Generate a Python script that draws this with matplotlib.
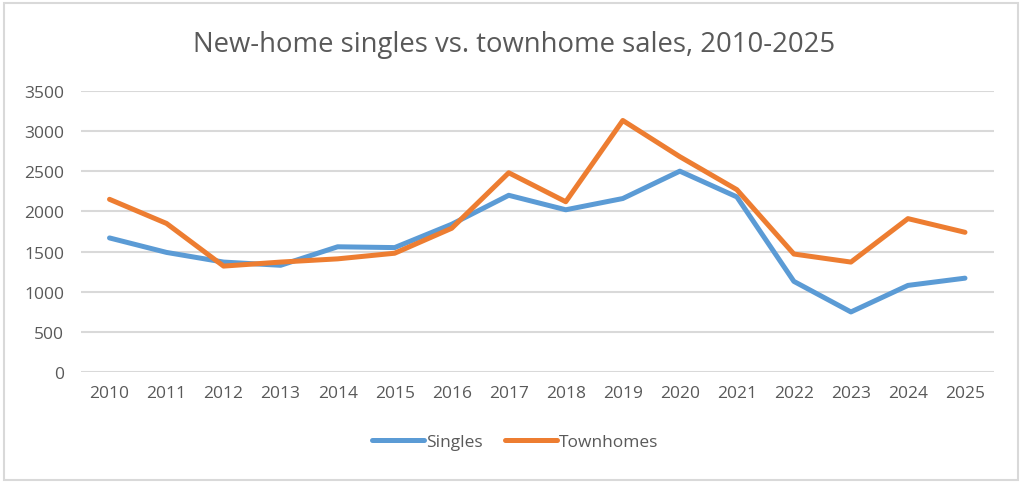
import matplotlib
matplotlib.use("Agg")
import matplotlib.pyplot as plt
from matplotlib.patches import Rectangle

years = ["2010", "2011", "2012", "2013", "2014", "2015", "2016", "2017",
         "2018", "2019", "2020", "2021", "2022", "2023", "2024", "2025"]
singles = [1670, 1490, 1370, 1330, 1560, 1550, 1840, 2200,
           2020, 2160, 2500, 2180, 1130, 750, 1080, 1170]
townhomes = [2150, 1850, 1320, 1370, 1410, 1480, 1790, 2480,
             2120, 3130, 2680, 2270, 1470, 1370, 1910, 1740]
yticks = [0, 500, 1000, 1500, 2000, 2500, 3000, 3500]

plt.rcParams['font.family'] = ['Open Sans', 'DejaVu Sans']
txt = '#595959'

fig = plt.figure(figsize=(10.24, 4.85), dpi=100)
fig.patches.append(Rectangle((0.004, 0.008), 0.99, 0.984, transform=fig.transFigure,
                             fill=False, edgecolor='#D9D9D9', linewidth=1.5))
ax = fig.add_axes([81 / 1024, 1 - 373.3 / 485, (993.5 - 81) / 1024, (373.3 - 91.7) / 485])

x = list(range(len(years)))
ax.plot(x, singles, color='#5B9BD5', linewidth=3.6, solid_joinstyle='round',
        solid_capstyle='round', label='Singles', zorder=3)
ax.plot(x, townhomes, color='#ED7D31', linewidth=3.6, solid_joinstyle='round',
        solid_capstyle='round', label='Townhomes', zorder=3)

ax.set_xlim(-0.5, len(years) - 0.5)
ax.set_ylim(0, 3500)
ax.set_yticks(yticks)
ax.set_yticklabels([str(v) for v in yticks])
ax.set_xticks(x)
ax.set_xticklabels(years)
ax.grid(axis='y', color='#D9D9D9', linewidth=1.5)
ax.set_axisbelow(True)
for s in ax.spines.values():
    s.set_visible(False)
ax.tick_params(length=0, labelsize=12.5, colors=txt, pad=9)
ax.tick_params(axis='y', pad=12)

fig.text(0.502, 1 - 45 / 485, 'New-home singles vs. townhome sales, 2010-2025',
         ha='center', va='center', fontsize=19.8, color=txt)

leg = fig.legend(loc='center', bbox_to_anchor=(0.503, 1 - 443 / 485), ncol=2,
                 frameon=False, fontsize=12.5, handlelength=3.0, handletextpad=0.1,
                 columnspacing=1.3)
for t in leg.get_texts():
    t.set_color(txt)

fig.savefig('out.png', dpi=100)
